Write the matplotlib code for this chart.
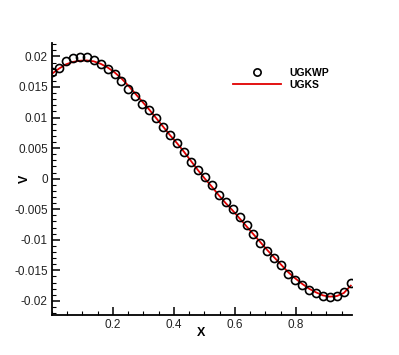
from matplotlib import pyplot as plt
from matplotlib.ticker import MultipleLocator
import numpy as np

# UGKWP samples (circles), 44 points over 0..0.98
x_wp = np.linspace(0.0, 0.98, 44)
v_wp = [0.01743, 0.01809, 0.01930, 0.01972, 0.01984, 0.01998, 0.01946, 0.01877,
        0.01800, 0.01717, 0.01593, 0.01472, 0.01350, 0.01227, 0.01120, 0.00990,
        0.00840, 0.00710, 0.00592, 0.00435, 0.00275, 0.00136, 0.00020, -0.00108,
        -0.00260, -0.00386, -0.00492, -0.00628, -0.00759, -0.00899, -0.01053, -0.01184,
        -0.01303, -0.01413, -0.01554, -0.01652, -0.01740, -0.01815, -0.01871, -0.01913,
        -0.01936, -0.01925, -0.01848, -0.01707]

# UGKS reference (red line)
x_ks = np.linspace(0.0, 0.98, 44)
v_ks = [0.01717, 0.01800, 0.01870, 0.01910, 0.01930, 0.01935, 0.01920, 0.01880,
        0.01820, 0.01740, 0.01640, 0.01520, 0.01390, 0.01260, 0.01130, 0.00990,
        0.00850, 0.00710, 0.00580, 0.00440, 0.00290, 0.00140, 0.00000, -0.00130,
        -0.00270, -0.00400, -0.00520, -0.00650, -0.00780, -0.00910, -0.01040, -0.01170,
        -0.01290, -0.01410, -0.01530, -0.01630, -0.01720, -0.01800, -0.01860, -0.01910,
        -0.01930, -0.01920, -0.01870, -0.01750]

plt.rcParams['font.family'] = ['Liberation Sans', 'DejaVu Sans']

fig = plt.figure(figsize=(3.99, 3.55), dpi=100)
ax = fig.add_axes([0.1303, 0.1127, 0.7519, 0.7662])

ax.plot(x_wp, v_wp, 'o', mfc='none', mec='black', ms=5.8, mew=1.2, label='UGKWP', zorder=3)
ax.plot(x_ks, v_ks, '-', color='#e00000', lw=1.3, label='UGKS', zorder=2)

ax.set_xlim(0.0, 0.984)
ax.set_ylim(-0.0223, 0.0222)
ax.xaxis.set_minor_locator(MultipleLocator(0.05))
ax.yaxis.set_minor_locator(MultipleLocator(0.001))
ax.set_xticks([0.2, 0.4, 0.6, 0.8])
ax.set_xticklabels(['0.2', '0.4', '0.6', '0.8'])
yt = [-0.02, -0.015, -0.01, -0.005, 0, 0.005, 0.01, 0.015, 0.02]
ax.set_yticks(yt)
ax.set_yticklabels(['-0.02', '-0.015', '-0.01', '-0.005', '0', '0.005', '0.01', '0.015', '0.02'])

ax.tick_params(which='major', direction='in', length=6, width=1.1, labelsize=8.5,
               labelcolor='#222222', pad=3)
ax.tick_params(which='minor', direction='in', length=3, width=0.8)
ax.spines['right'].set_visible(False)
ax.spines['top'].set_visible(False)
ax.spines['left'].set_linewidth(1.3)
ax.spines['bottom'].set_linewidth(1.3)

ax.set_xlabel('X', fontsize=9, fontweight='bold', va='center')
ax.xaxis.set_label_coords(0.497, -0.066)
ax.set_ylabel('V', fontsize=9, fontweight='bold', va='center')
ax.yaxis.set_label_coords(-0.09, 0.5)

ax.legend(loc='upper left', bbox_to_anchor=(233 / 399, 1 - 68 / 355), bbox_transform=fig.transFigure,
          frameon=False, prop={'weight': 'bold', 'size': 7.5},
          handlelength=4.6, handletextpad=0.8, labelspacing=0.15, borderpad=0, borderaxespad=0,
          markerscale=0.9)

fig.savefig('out.png', dpi=100)
